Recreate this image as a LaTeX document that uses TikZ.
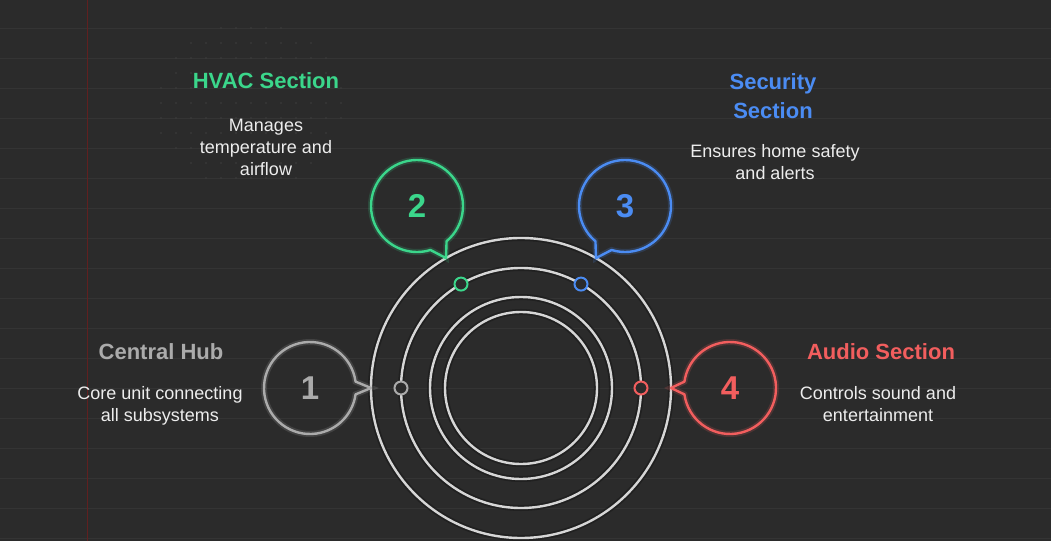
\documentclass[tikz,border=0pt]{standalone}
\usepackage{fontspec}
\setmainfont{Liberation Sans}
\usepackage{xcolor}
\definecolor{bg}{HTML}{2B2B2B}
\definecolor{gridln}{HTML}{343434}
\definecolor{griddot}{HTML}{3E3E3E}
\definecolor{cring}{HTML}{D6D6D6}
\definecolor{chub}{HTML}{ABABAB}
\definecolor{chvac}{HTML}{3BD68B}
\definecolor{csec}{HTML}{4B8CF3}
\definecolor{caud}{HTML}{F25E5E}
\definecolor{ctext}{HTML}{EDEDED}
\usetikzlibrary{positioning}

\begin{document}
\begin{tikzpicture}[
  x=1pt, y=1pt,
  ring/.style={circle, draw=cring, line width=2.4pt, inner sep=0pt, outer sep=0pt,
    preaction={draw=black, line width=6pt, opacity=.25}},
  bubble/.style={circle, inner sep=0pt, outer sep=0pt, minimum size=92pt,
    font=\fontsize{33}{33}\selectfont\bfseries, text=#1},
  tail/.style={draw=#1, line width=2.4pt, line join=round,
    preaction={draw=#1, line width=6pt, opacity=.18}},
  knob/.style={circle, draw=#1, fill=bg, line width=2pt, minimum size=13pt, inner sep=0pt},
  head/.style={anchor=base, align=center, text=#1, font=\fontsize{22}{29.5}\selectfont\bfseries},
  desc/.style={anchor=base, align=center, text=ctext, font=\fontsize{18}{22}\selectfont},
]
  % backdrop
  \fill[bg] (0,0) rectangle (1051,541);
  \useasboundingbox (0,0) rectangle (1051,541);
  \foreach \k in {0,...,17}
    \draw[gridln, line width=1pt] (0,{512.4-30*\k}) -- (1051,{512.4-30*\k});
  \draw[red!25!bg, line width=0.8pt] (87,0) -- (87,541);
  \foreach \i in {0,...,12}{
    \foreach \j in {0,...,11}{
      \pgfmathsetmacro{\dd}{((15*\i-89)/95)^2+((15*\j-77)/85)^2}
      \ifdim\dd pt<1pt \fill[griddot] (161+15*\i,513-15*\j) circle[radius=0.9pt]; \fi
    }
  }

  % rings
  \node[ring, minimum size=300pt] (outer) at (521,153) {};
  \node[ring, minimum size=240pt] (track) at (outer) {};
  \node[ring, minimum size=182pt] (inner) at (outer) {};
  \node[ring, minimum size=152pt] (core) at (outer) {};

  \node[knob=chub]  (m1) at (track.180) {};
  \node[knob=chvac] (m2) at (track.120) {};
  \node[knob=csec]  (m3) at (track.60) {};
  \node[knob=caud]  (m4) at (track.0) {};

  % callouts
  \node[bubble=chub]  (b1) at (310,153) {1};
  \node[bubble=chvac] (b2) at (417,335) {2};
  \node[bubble=csec]  (b3) at (625,335) {3};
  \node[bubble=caud]  (b4) at (730,153) {4};

  \draw[tail=chub]  (b1.8) arc[start angle=8, end angle=352, radius=46pt] -- (outer.180) -- cycle;
  \draw[tail=chvac] (b2.-50) arc[start angle=-50, end angle=287, radius=46pt] -- (outer.120) -- cycle;
  \draw[tail=csec]  (b3.-107) arc[start angle=-107, end angle=230, radius=46pt] -- (outer.60) -- cycle;
  \draw[tail=caud]  (b4.188) arc[start angle=188, end angle=532, radius=46pt] -- (outer.0) -- cycle;

  % labels (base = last line)
  \node[head=chub]  (t1) at (161,182) {Central Hub};
  \node[desc]       (d1) at (160,120) {Core unit connecting\\all subsystems};
  \node[head=chvac] (t2) at (266,452) {HVAC Section};
  \node[desc]       (d2) at (266,365) {Manages\\temperature and\\airflow};
  \node[head=csec]  (t3) at (773,422) {Security\\Section};
  \node[desc]       (d3) at (775,361) {Ensures home safety\\and alerts};
  \node[head=caud]  (t4) at (881,182) {Audio Section};
  \node[desc]       (d4) at (878,120) {Controls sound and\\entertainment};
\end{tikzpicture}
\end{document}
